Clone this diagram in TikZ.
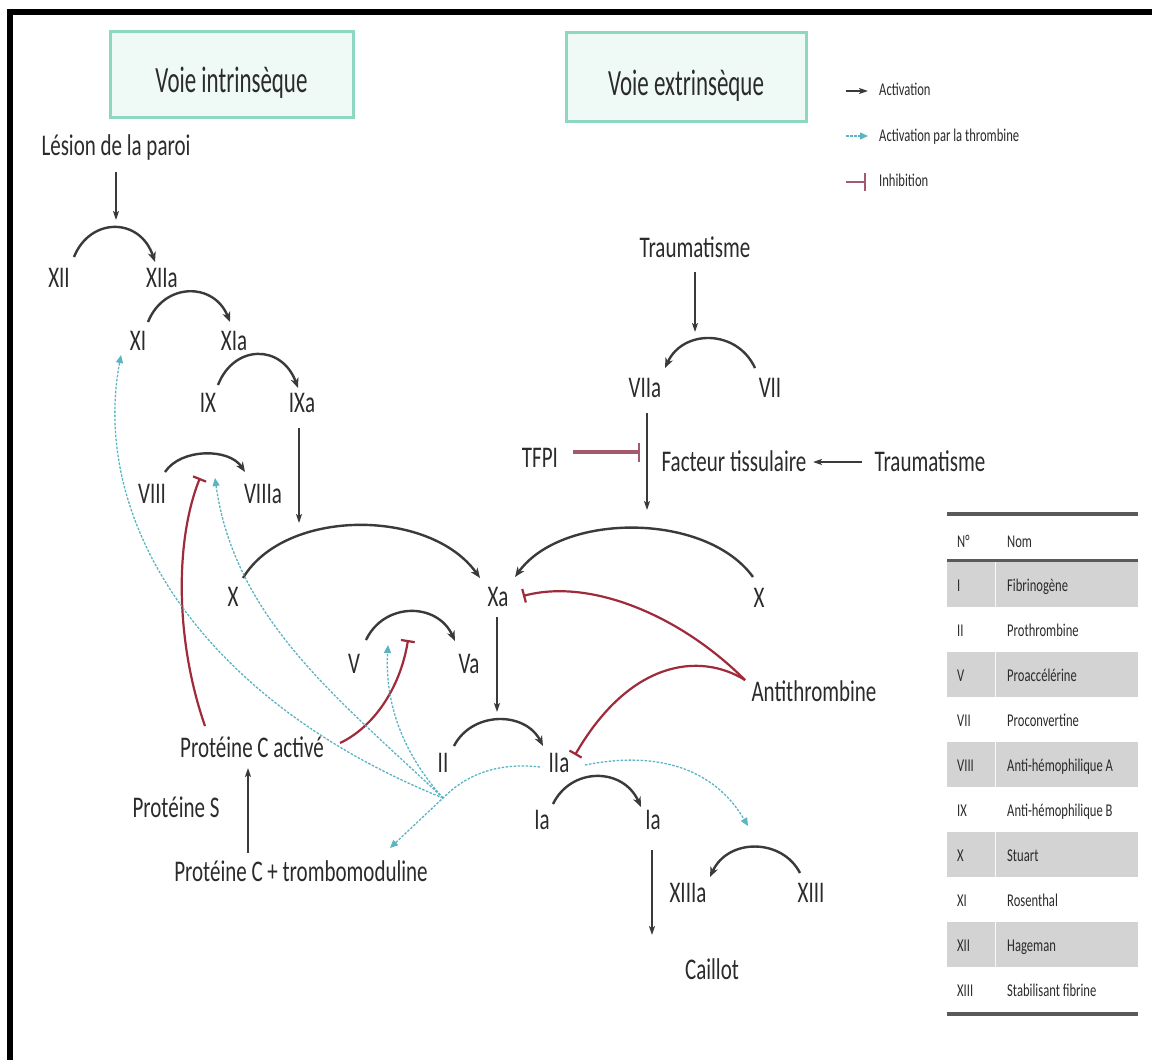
\documentclass[tikz,border=0pt]{standalone}
\usepackage{fontspec}
\setmainfont{Carlito}[FakeStretch=0.7]
\newfontfamily\headfont{Carlito}[FakeStretch=0.62]
\usetikzlibrary{arrows.meta,calc}
\definecolor{txt}{HTML}{2B2B2B}
\definecolor{arr}{HTML}{3A3A3A}
\definecolor{thr}{HTML}{5BB4C2}
\definecolor{inhred}{HTML}{9E2A3A}
\definecolor{tfpicol}{HTML}{A45A6C}
\definecolor{hborder}{HTML}{8ED8C3}
\definecolor{hfill}{HTML}{EFFAF6}
\definecolor{tgrey}{HTML}{D3D3D3}
\definecolor{trule}{HTML}{5A5A5A}
\begin{document}
\begin{tikzpicture}[x=1pt,y=-1pt,
  lbl/.style={font=\fontsize{30}{36}\selectfont, text=txt, inner sep=0pt, text height=19.5pt, text depth=0pt},
  sml/.style={font=\fontsize{18}{22}\selectfont, text=txt, inner sep=0pt, text height=11.6pt, text depth=0pt, anchor=west},
  hbox/.style={draw=hborder, fill=hfill, line width=3pt, text height=37pt, text depth=0pt, inner sep=0pt, font=\headfont\fontsize{37}{44}\selectfont, text=txt},
  arcarrow/.style={draw=arr, line width=2.4pt, -{Stealth[length=10pt,width=8pt,inset=3pt]}},
  plain/.style={draw=arr, line width=1.4pt, -{Stealth[length=9pt,width=6pt,inset=2pt]}},
  thrarrow/.style={draw=thr, line width=1.3pt, dash pattern=on 2.5pt off 1.5pt, -{Triangle[length=8pt,width=7pt]}},
  inh/.style={draw=inhred, line width=2.2pt, -{Bar[width=14pt]}},
  tfpiinh/.style={draw=tfpicol, line width=4pt, -{Bar[width=19pt,line width=2pt]}}
]
\useasboundingbox (0,0) rectangle (1152,1060);
\fill[white] (0,0) rectangle (1152,1060);
% frame
\draw[line width=6pt, black] (10,1063) -- (10,12) -- (1155,12);

% header boxes
\node[hbox, minimum width=243pt, minimum height=86pt] (hin) at (231.5,74) {Voie intrinsèque};
\node[hbox, minimum width=240pt, minimum height=89pt] (hex) at (686,76.5) {Voie extrinsèque};

% legend
\node[sml] (lg1) at (879,90) {Activation};
\node[sml] (lg2) at (879,136) {Activation par la thrombine};
\node[sml] (lg3) at (879,181) {Inhibition};
\draw[plain] (846,91) -- (868,91);
\draw[thrarrow] (846,136) -- (868,136);
\draw[draw=tfpicol, line width=2.5pt, -{Bar[width=18pt,line width=2pt]}] (846,182) -- (866,182);

% nodes
\node[lbl] (lesion) at (116,146) {Lésion de la paroi};
\node[lbl] (xii) at (59,278) {XII};
\node[lbl] (xiia) at (162,278) {XIIa};
\node[lbl] (xi) at (138,341) {XI};
\node[lbl] (xia) at (234,341) {XIa};
\node[lbl] (ix) at (208,403) {IX};
\node[lbl] (ixa) at (302,403) {IXa};
\node[lbl] (viii) at (152,494) {VIII};
\node[lbl] (viiia) at (263,494) {VIIIa};
\node[lbl] (x1) at (233,597) {X};
\node[lbl] (xa) at (498,597) {Xa};
\node[lbl] (x2) at (759,598) {X};
\node[lbl] (v) at (354,664) {V};
\node[lbl] (va) at (469,664) {Va};
\node[lbl] (ii) at (443,763) {II};
\node[lbl] (iia) at (559,763) {IIa};
\node[lbl] (pca) at (252,748) {Protéine C activé};
\node[lbl] (ps) at (176,808) {Protéine S};
\node[lbl] (pct) at (301,872) {Protéine C + trombomoduline};
\node[lbl] (ia1) at (542,820) {Ia};
\node[lbl] (ia2) at (653,820) {Ia};
\node[lbl] (xiiia) at (688,893) {XIIIa};
\node[lbl] (xiii) at (811,893) {XIII};
\node[lbl] (caillot) at (712,970) {Caillot};
\node[lbl] (trauma1) at (695,248) {Traumatisme};
\node[lbl] (viia) at (645,388) {VIIa};
\node[lbl] (vii) at (770,388) {VII};
\node[lbl] (tfpi) at (540,458) {TFPI};
\node[lbl] (ft) at (734,462) {Facteur tissulaire};
\node[lbl] (trauma2) at (930,462) {Traumatisme};
\node[lbl] (anti) at (814,692) {Antithrombine};

% free-end coordinates
\coordinate (pk12) at (116,220);
\coordinate (pk7) at (695,332);
\coordinate (tox) at (299,523);
\coordinate (tox2) at (647,510);
\coordinate (toii) at (497,712);
\coordinate (inhviii) at (200,478);
\coordinate (inhv) at (408,640);
\coordinate (hub) at (443,798);
\coordinate (thrviii) at (215,478);
\coordinate (thrv) at (388,645);
\coordinate (thrxiii) at (748,826);

% activation arcs
\draw[arcarrow] ([shift={(15,-21)}]xii.center) .. controls (90,217) and (140,217) .. ([shift={(-7,-16)}]xiia.center);
\draw[arcarrow] ([shift={(10,-19)}]xi.center) .. controls (164,282) and (214,282) .. ([shift={(-4,-19)}]xia.center);
\draw[arcarrow] ([shift={(10,-18)}]ix.center) .. controls (234,344) and (282,344) .. ([shift={(-4,-15)}]ixa.center);
\draw[arcarrow] ([shift={(13,-22)}]viii.center) .. controls (181,448) and (229,448) .. ([shift={(-18,-22)}]viiia.center);
\draw[arcarrow] ([shift={(10,-19)}]x1.center) .. controls (285,508) and (430,508) .. ([shift={(-18,-19)}]xa.center);
\draw[arcarrow] ([shift={(-6,-21)}]x2.center) .. controls (706,512) and (562,512) .. ([shift={(17,-20)}]xa.center);
\draw[arcarrow] ([shift={(-15,-20)}]vii.center) .. controls (737,329) and (683,329) .. ([shift={(20,-20)}]viia.center);
\draw[arcarrow] ([shift={(12,-24)}]v.center) .. controls (384,602) and (437,602) .. ([shift={(-14,-23)}]va.center);
\draw[arcarrow] ([shift={(11,-17)}]ii.center) .. controls (472,711) and (525,711) .. ([shift={(-16,-17)}]iia.center);
\draw[arcarrow] ([shift={(11,-16)}]ia1.center) .. controls (571,767) and (623,767) .. ([shift={(-12,-13)}]ia2.center);
\draw[arcarrow] ([shift={(-11,-20)}]xiii.center) .. controls (782,838) and (728,838) .. ([shift={(22,-16)}]xiiia.center);

% straight activations
\draw[plain] ([shift={(0,26)}]lesion.center) -- (pk12);
\draw[plain] ([shift={(0,24)}]trauma1.center) -- (pk7);
\draw[plain] ([shift={(-3,25)}]ixa.center) -- (tox);
\draw[plain] ([shift={(2,25)}]viia.center) -- (tox2);
\draw[plain] ([shift={(-68,0)}]trauma2.center) -- ([shift={(79,0)}]ft.center);
\draw[plain] ([shift={(-1,20)}]xa.center) -- (toii);
\draw[plain] ([shift={(-53,-19)}]pct.center) -- ([shift={(-4,20)}]pca.center);
\draw[plain] ([shift={(-1,30)}]ia2.center) -- ([shift={(-60,-35)}]caillot.center);

% inhibitions
\draw[tfpiinh] ([shift={(33,-6)}]tfpi.center) -- ([shift={(-94,-10)}]ft.center);
\draw[inh] ([shift={(-47,-22)}]pca.center) .. controls (175,640) and (175,540) .. (inhviii);
\draw[inh] ([shift={(88,-5)}]pca.center) .. controls (372,728) and (400,690) .. (inhv);
\draw[inh] ([shift={(-69,-12)}]anti.center) .. controls (680,615) and (590,578) .. ([shift={(25,-1)}]xa.center);
\draw[inh] ([shift={(-69,-12)}]anti.center) .. controls (700,652) and (630,660) .. ([shift={(16,-8)}]iia.center);

% thrombin activations
\draw[thrarrow] ([shift={(-19,4)}]iia.center) .. controls (495,762) and (465,776) .. (hub) -- ([shift={(89,-24)}]pct.center);
\draw[thrarrow] (hub) .. controls (200,700) and (90,520) .. ([shift={(-17,14)}]xi.center);
\draw[thrarrow] (hub) .. controls (340,700) and (235,620) .. (thrviii);
\draw[thrarrow] (hub) .. controls (400,750) and (385,700) .. (thrv);
\draw[thrarrow] ([shift={(26,2)}]iia.center) .. controls (660,750) and (715,770) .. (thrxiii);

% table
\foreach \k in {0,2,4,6,8} {
  \fill[tgrey] (947,{562+45*\k}) rectangle (1138,{607+45*\k});
  \draw[white!85!tgrey, line width=1pt] (995,{562+45*\k}) -- (995,{607+45*\k});
}
\draw[trule, line width=4pt] (947,514) -- (1138,514);
\draw[trule, line width=3pt] (947,560) -- (1138,560);
\draw[trule, line width=4pt] (947,1014) -- (1138,1014);
\node[sml] (thn) at (957,542) {N°};
\node[sml] (thm) at (1007,542) {Nom};
\foreach \n/\m [count=\k from 0] in {I/Fibrinogène, II/Prothrombine, V/Proaccélérine, VII/Proconvertine, VIII/Anti-hémophilique A, IX/Anti-hémophilique B, X/Stuart, XI/Rosenthal, XII/Hageman, XIII/Stabilisant fibrine} {
  \node[sml] (tn\k) at (957,{586+45*\k}) {\n};
  \node[sml] (tm\k) at (1007,{586+45*\k}) {\m};
}
\end{tikzpicture}
\end{document}
